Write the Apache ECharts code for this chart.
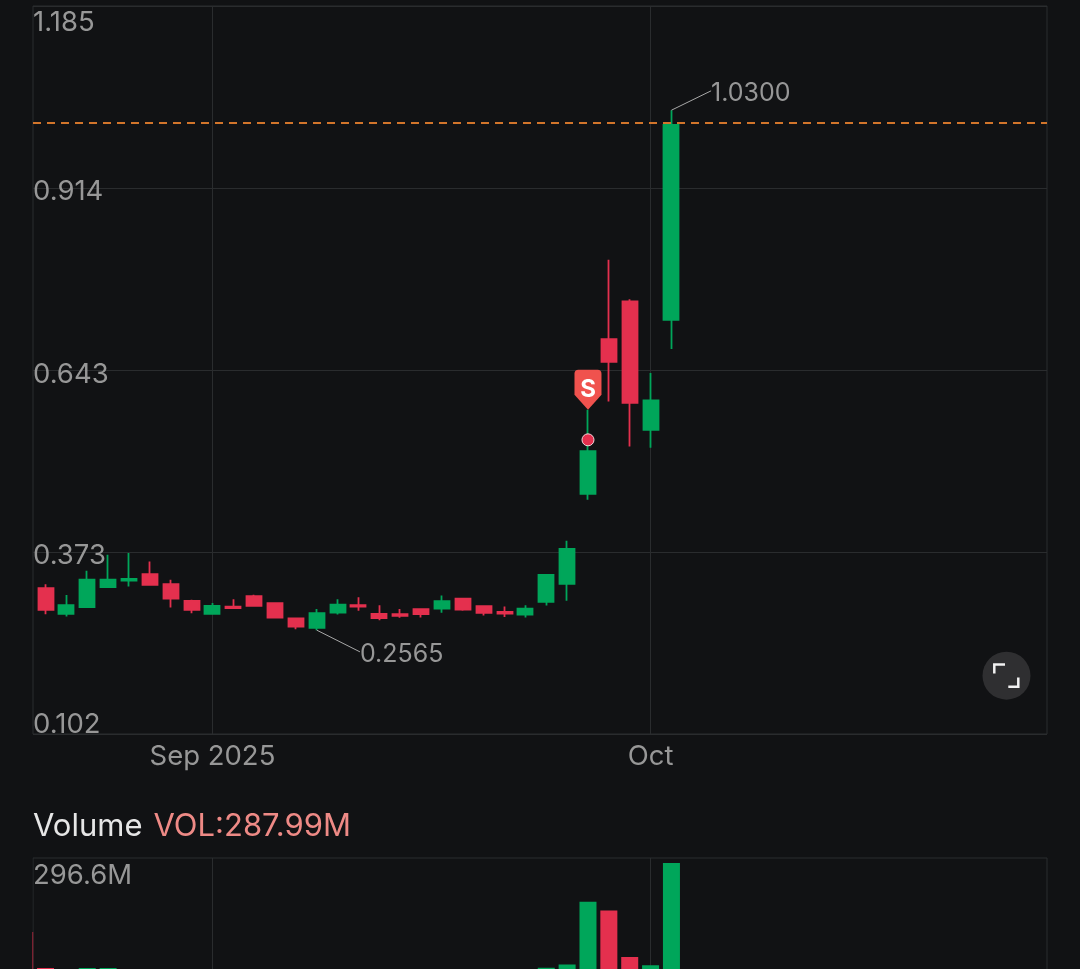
<!DOCTYPE html>
<html>
<head>
<meta charset="utf-8">
<style>
html,body{margin:0;padding:0;background:#111214;}
#main{width:1080px;height:969px;}
</style>
<script src="https://cdn.jsdelivr.net/npm/echarts@6/dist/echarts.min.js"></script>
</head>
<body>
<div id="main"></div>
<script>
// one candle per trading day, index 0 is the one cut off by the left edge
var opens  = [.3388,.3190,.2808,.2907,.3205,.3303,.3398,.3249,.3001,.2808,.2916,.3071,.2967,.2738,.2599,.2827,.2937,.2808,.2803,.2878,.2886,.3035,.2922,.2837,.2797,.2986,.3254,.4593,.6894,.7454,.5545,.7181];
var closes = [.3046,.2867,.2937,.3318,.3318,.3328,.3239,.3035,.2867,.2927,.2892,.2927,.2753,.2619,.2818,.2946,.2916,.2744,.2778,.2803,.2997,.2872,.2823,.2812,.2886,.3388,.3775,.5228,.6557,.5947,.5981,1.0082];
var lows   = [.3046,.2803,.2767,.2907,.3205,.3214,.3239,.2901,.2818,.2808,.2892,.2912,.2744,.2580,.2565,.2797,.2852,.2714,.2748,.2753,.2823,.2852,.2782,.2759,.2753,.2931,.3001,.4504,.5966,.5297,.5277,.6746];
var highs  = [.3388,.3249,.3086,.3447,.3685,.3711,.3586,.3313,.3016,.2967,.3026,.3090,.2967,.2738,.2878,.3026,.3056,.2937,.2878,.2882,.3080,.3041,.2922,.2916,.2937,.3398,.3894,.5843,.8074,.7489,.6389,1.03];
var volumes = [169,107,62,107,107,105,85,72,60,55,40,48,66,58,70,50,38,42,34,36,52,44,40,36,60,107.4,113,221,206,126,111.5,287.99];

var priceTicks = [0.102,0.373,0.643,0.914,1.185];
var priceMin = 0.102, priceMax = 1.185;
var volumeTicks = [296.6];
var dateTicks = [9,30];
var dateLabels = {9:'Sep 2025',30:'Oct'};
var xMin = 0.4, xMax = 49;

var lastPriceLine = 1.011;
var highLabel = {text:'1.0300',from:[31,1.03],to:[32.9,1.0588]};
var lowLabel = {text:'0.2565',from:[14,0.2565],to:[16.07,0.2242]};
var sellPin = [27,0.5843];
var sellDot = [27,0.5396];

var GREEN = '#00a65a', RED = '#e4304e', GRID = '#2a2c2e', TXT = '#979797', BG = '#111214';
var FONT = 'Inter';

var candles = opens.map(function(o,i){ return [i,o,closes[i],lows[i],highs[i]]; });
var volBars = volumes.map(function(v,i){
	return {value:[i,v],itemStyle:{color:closes[i]>=opens[i]?GREEN:RED}};
});

var myChart = echarts.init(document.getElementById('main'));

function leader(item){
	return [{coord:item.from,symbol:'none'},{coord:item.to,symbol:'none',label:{
		show:true,position:'end',formatter:item.text,color:TXT,fontFamily:FONT,fontSize:25,distance:0,
		align:'left',verticalAlign:'middle',offset:[0,3]
	}}];
}

var option = {
	backgroundColor:BG,
	animation:false,
	title:{
		left:33,top:811,padding:0,
		text:'{a|Volume}{b|VOL:287.99M}',
		textStyle:{fontWeight:'normal',rich:{
			a:{color:'#e6e6e6',fontSize:31,fontFamily:FONT},
			b:{color:'#ee8a86',fontSize:31,fontFamily:FONT,padding:[0,0,0,11]}
		}}
	},
	grid:[
		{left:33,top:6,width:1014,height:728,show:true,borderColor:GRID,borderWidth:1,outerBoundsMode:'none'},
		{left:33,top:858,width:1014,height:172,show:true,borderColor:GRID,borderWidth:1,outerBoundsMode:'none'}
	],
	xAxis:[
		{type:'value',gridIndex:0,min:xMin,max:xMax,
			axisLine:{show:false},
			axisTick:{show:false,customValues:dateTicks},
			splitLine:{show:true,lineStyle:{color:GRID,width:1}},
			axisLabel:{customValues:dateTicks,color:TXT,fontFamily:FONT,fontSize:27.5,margin:9,
				formatter:function(v){return dateLabels[v];}}
		},
		{type:'value',gridIndex:1,min:xMin,max:xMax,
			axisLine:{show:false},
			axisTick:{show:false,customValues:dateTicks},
			splitLine:{show:true,lineStyle:{color:GRID,width:1}},
			axisLabel:{show:false}
		}
	],
	yAxis:[
		{type:'value',gridIndex:0,min:priceMin,max:priceMax,
			axisLine:{show:false},
			axisTick:{show:false,customValues:priceTicks},
			splitLine:{show:true,lineStyle:{color:GRID,width:1}},
			axisLabel:{inside:true,margin:0,customValues:priceTicks,
				verticalAlignMinLabel:'bottom',verticalAlignMaxLabel:'top',
				rich:{
					t:{color:TXT,fontFamily:FONT,fontSize:27.5,lineHeight:34},
					m:{color:TXT,fontFamily:FONT,fontSize:27.5,padding:[8,0,0,0]},
					b:{color:TXT,fontFamily:FONT,fontSize:27.5,lineHeight:18}
				},
				formatter:function(v){
					var key = v===priceMax?'t':(v===priceMin?'b':'m');
					return '{'+key+'|'+v.toFixed(3)+'}';
				}}
		},
		{type:'value',gridIndex:1,min:0,max:volumeTicks[0],
			axisLine:{show:false},
			axisTick:{show:false,customValues:volumeTicks},
			splitLine:{show:false},
			axisLabel:{inside:true,margin:0,customValues:volumeTicks,color:TXT,fontFamily:FONT,fontSize:27.5,
				verticalAlign:'top',padding:[4,0,0,0],
				formatter:function(v){return v.toFixed(1)+'M';}}
		}
	],
	series:[
		{
			type:'candlestick',xAxisIndex:0,yAxisIndex:0,barWidth:15.5,data:candles,
			itemStyle:{color:GREEN,color0:RED,borderColor:GREEN,borderColor0:RED,borderWidth:1.8},
			markLine:{
				silent:true,symbol:'none',animation:false,
				data:[
					[{coord:[xMin,lastPriceLine],lineStyle:{color:'#d2752b',type:[8,6],width:2},label:{show:false}},{coord:[xMax,lastPriceLine]}],
					leader(highLabel),
					leader(lowLabel)
				],
				lineStyle:{color:'#a8a8a8',type:'solid',width:1}
			},
			markPoint:{
				silent:true,animation:false,
				data:[
					{coord:sellPin,symbol:'path://M4 0H23Q27 0 27 4V25L13.5 40L0 25V4Q0 0 4 0Z',symbolSize:[27,40],symbolOffset:[0,'-50%'],
						itemStyle:{color:'#f0524e'},
						label:{show:true,formatter:'S',color:'#fff',fontFamily:FONT,fontWeight:'bold',fontSize:24,position:'inside'}},
					{coord:sellDot,symbol:'circle',symbolSize:12,
						itemStyle:{color:RED,borderColor:'#f3d6da',borderWidth:1},label:{show:false}}
				]
			}
		},
		{type:'bar',xAxisIndex:1,yAxisIndex:1,barWidth:17,clip:true,data:volBars}
	],
	graphic:[
		// bar clip does not cut a value axis at the edge, so cover the overhang left of the volume grid
		{type:'rect',z:100,shape:{x:0,y:850,width:32.5,height:119},style:{fill:BG}},
		{type:'circle',shape:{cx:1006.5,cy:675.7,r:24},style:{fill:'#2f2f31'}},
		{type:'polyline',shape:{points:[[994.3,673.5],[994.3,664.5],[1005,664.5]]},style:{stroke:'#f2f2f2',lineWidth:2.5,fill:null}},
		{type:'polyline',shape:{points:[[1018.3,677.5],[1018.3,686.7],[1008.3,686.7]]},style:{stroke:'#f2f2f2',lineWidth:2.5,fill:null}}
	]
};
myChart.setOption(option);
</script>
</body>
</html>
